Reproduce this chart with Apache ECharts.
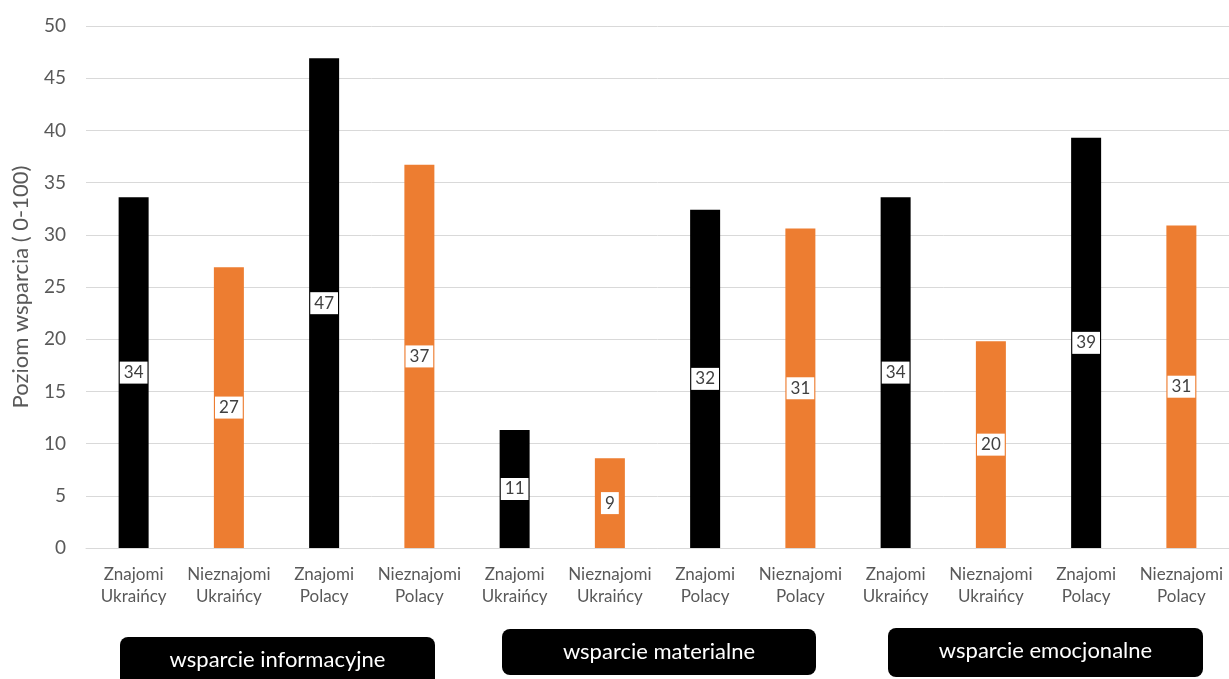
<!DOCTYPE html>
<html>
  <head>
    <meta charset="utf-8" />
    <title>Poziom wsparcia</title>
    <script src="https://cdn.jsdelivr.net/npm/echarts@6/dist/echarts.min.js"></script>
    <style>
      html, body { margin: 0; padding: 0; background: #fff; }
      #main { width: 1229px; height: 679px; }
    </style>
  </head>
  <body>
    <div id="main"></div>
    <script type="text/javascript">
      var categories = [
        "Znajomi\nUkraińcy", "Nieznajomi\nUkraińcy", "Znajomi\nPolacy", "Nieznajomi\nPolacy",
        "Znajomi\nUkraińcy", "Nieznajomi\nUkraińcy", "Znajomi\nPolacy", "Nieznajomi\nPolacy",
        "Znajomi\nUkraińcy", "Nieznajomi\nUkraińcy", "Znajomi\nPolacy", "Nieznajomi\nPolacy"
      ];
      var values = [33.6, 26.9, 46.9, 36.7, 11.3, 8.6, 32.4, 30.6, 33.6, 19.8, 39.3, 30.9];
      var barColors = ["#000000", "#ED7D31"];
      var groups = ["wsparcie informacyjne", "wsparcie materialne", "wsparcie emocjonalne"];

      var font = "Lato, 'Open Sans', sans-serif";
      var chart = echarts.init(document.getElementById("main"));

      // pudełka z nazwami grup pod osią
      var boxes = [
        { x: 120, y: 637, w: 315, h: 52 },
        { x: 502, y: 629, w: 314, h: 46 },
        { x: 888, y: 628, w: 315, h: 49 }
      ];
      var graphic = [];
      groups.forEach(function (g, i) {
        var b = boxes[i];
        graphic.push({
          type: "rect",
          left: b.x, top: b.y,
          shape: { width: b.w, height: b.h, r: 8 },
          style: { fill: "#000" }
        });
        graphic.push({
          type: "text",
          x: b.x + b.w / 2, y: b.y + 23,
          style: {
            text: g, fill: "#fff", font: "22px " + font,
            textAlign: "center", textVerticalAlign: "middle"
          }
        });
      });

      var option = {
        animation: false,
        textStyle: { fontFamily: font },
        grid: { left: 86, right: 0, top: 26, bottom: 131 },
        xAxis: {
          type: "category",
          data: categories,
          axisLine: { lineStyle: { color: "#d9d9d9" } },
          axisTick: { show: false },
          axisLabel: { color: "#595959", fontSize: 17, lineHeight: 22, margin: 16, interval: 0 }
        },
        yAxis: {
          type: "value",
          min: 0, max: 50, interval: 5,
          name: "Poziom wsparcia ( 0-100)",
          nameLocation: "middle",
          nameGap: 54,
          nameTextStyle: { color: "#595959", fontSize: 22 },
          axisLine: { show: false },
          axisTick: { show: false },
          axisLabel: { color: "#595959", fontSize: 19, margin: 20 },
          splitLine: { lineStyle: { color: "#d9d9d9" } }
        },
        series: [
          {
            type: "bar",
            barWidth: 30,
            data: values.map(function (v, i) {
              return { value: v, itemStyle: { color: barColors[i % 2] } };
            }),
            label: {
              show: true,
              position: "inside",
              formatter: function (p) { return Math.round(p.value); },
              color: "#404040",
              fontSize: 17,
              backgroundColor: "#fff",
              padding: [3, 4, 2, 4]
            }
          }
        ],
        graphic: graphic
      };

      chart.setOption(option);
    </script>
  </body>
</html>
